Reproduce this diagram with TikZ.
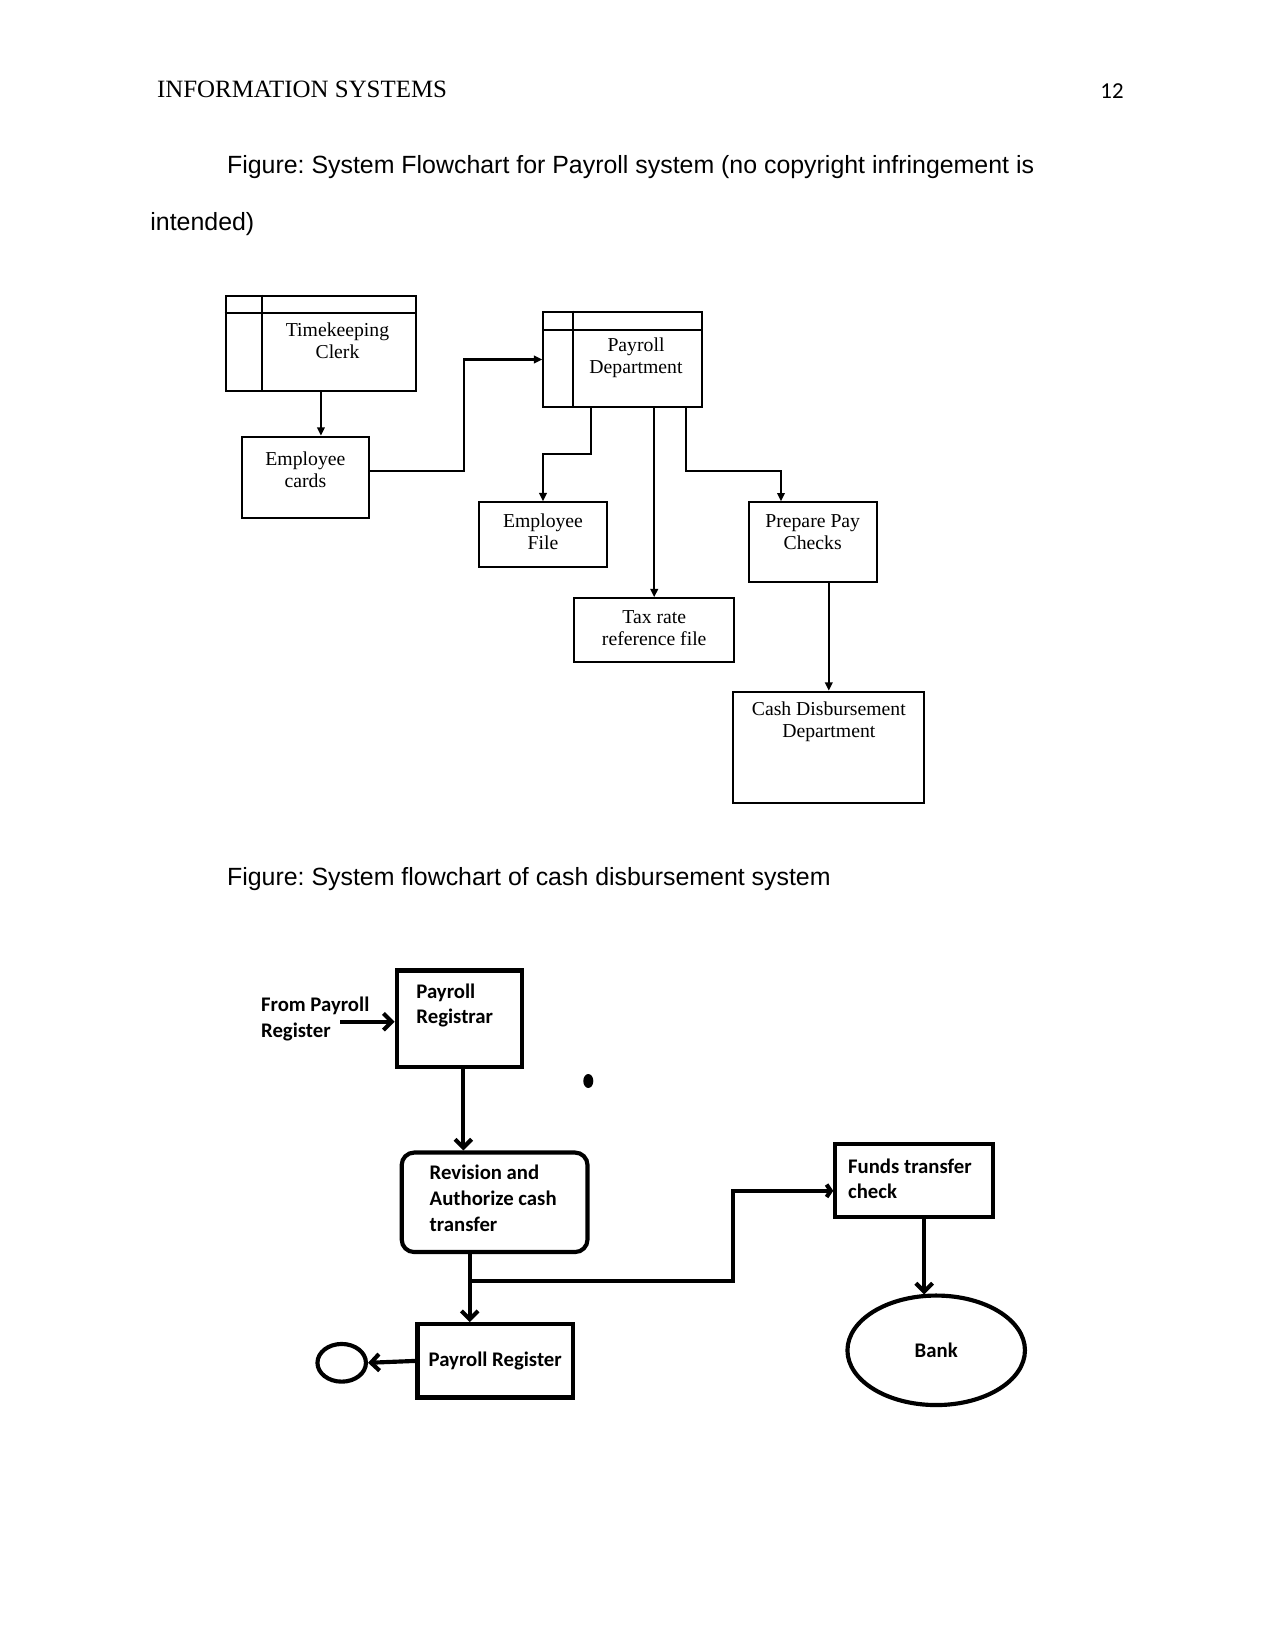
\documentclass[tikz,border=0pt]{standalone}
\usepackage{fontspec}
\setmainfont{Liberation Serif}
\newfontfamily\arialf{Liberation Sans}
\newfontfamily\calf{Carlito}
\usetikzlibrary{arrows.meta,shapes.geometric,calc}
\newcommand{\pxu}{0.4818pt}
\frenchspacing
\begin{document}
\begin{tikzpicture}[x=0.4818pt,y=-0.4818pt,
  tbox/.style={draw, line width=1pt, inner sep=0pt, rectangle},
  ttxt/.style={font=\fontsize{9.5}{10.4}\selectfont, align=center, inner sep=0pt},
  tline/.style={line width=1pt},
  tarr/.style={line width=1pt, -{Triangle[length=4pt,width=3.6pt]}},
  bbox/.style={draw, line width=2pt, inner sep=0pt},
  btxt/.style={font=\calf\bfseries\fontsize{10}{12.3}\selectfont, align=left, inner sep=0pt, anchor=west},
  bline/.style={line width=2pt},
  barr/.style={line width=2pt, -{Straight Barb[length=4pt,width=8pt]}},
  ptxt/.style={inner sep=0pt, anchor=base west}
]
\useasboundingbox (0,0) rectangle (1275,1651);

% ---------- page texts ----------
\node[ptxt, font=\fontsize{12}{14}\selectfont] (hd) at (156.7,97.7) {INFORMATION SYSTEMS};
\node[inner sep=0pt, anchor=base east, font=\calf\fontsize{11}{13}\selectfont] (pg) at (1124,98.3) {12};
\node[ptxt, font=\arialf\fontsize{12}{14}\selectfont] (cap1) at (226.7,173.3) {Figure: System Flowchart for Payroll system (no copyright infringement is};
\node[ptxt, font=\arialf\fontsize{12}{14}\selectfont] (cap1b) at (150,230.7) {intended)};
\node[ptxt, font=\arialf\fontsize{12}{14}\selectfont] (cap2) at (226.7,885) {Figure: System flowchart of cash disbursement system};

% ---------- top flowchart ----------
\node[tbox, minimum width=190.3*\pxu, minimum height=95.3*\pxu] (tk) at (320.9,343.4) {};
\draw[tline] ($(tk.north west)+(0,18.3)$) -- ($(tk.north east)+(0,18.3)$);
\draw[tline] ($(tk.north west)+(37.6,0)$) -- ($(tk.south west)+(37.6,0)$);
\node[ttxt] (tkt) at (337.5,341) {Timekeeping\\Clerk};

\node[tbox, minimum width=127.3*\pxu, minimum height=81.3*\pxu] (ec) at (305.4,477.4) {};
\node[ttxt] (ect) at (305.4,469.5) {Employee\\cards};

\node[tbox, minimum width=159*\pxu, minimum height=95.6*\pxu] (pd) at (622.8,359.5) {};
\draw[tline] ($(pd.north west)+(0,19)$) -- ($(pd.north east)+(0,19)$);
\draw[tline] ($(pd.north west)+(31,0)$) -- ($(pd.south west)+(31,0)$);
\node[ttxt] (pdt) at (636,358) {Payroll\\Department};

\node[tbox, minimum width=127.4*\pxu, minimum height=64.4*\pxu] (ef) at (543,534.5) {};
\node[ttxt] (eft) at (543,532) {Employee\\File};

\node[tbox, minimum width=159.7*\pxu, minimum height=63.4*\pxu] (tr) at (654.2,630) {};
\node[ttxt] (trt) at (654.2,628) {Tax rate\\reference file};

\node[tbox, minimum width=127.4*\pxu, minimum height=79.7*\pxu] (pp) at (813,542.2) {};
\node[ttxt] (ppt) at (812.7,532) {Prepare Pay\\Checks};

\node[tbox, minimum width=191*\pxu, minimum height=111.6*\pxu] (cd) at (828.8,747.5) {};
\node[ttxt] (cdt) at (828.8,722) {Cash Disbursement\\Department};

\coordinate (ya) at (0,470.7);
\coordinate (k1) at (464,359.5);
\coordinate (k2) at (591,454.3);
\coordinate (k3) at (686,470.7);
\coordinate (k4) at (781,470.7);

\draw[tarr] (tk.south) -- (tk.south |- ec.north);
\draw[tarr] (ec.east |- ya) -| (k1) -- (pd.west);
\draw[tarr] (pd.south -| k2) -- (k2) -| (ef.north);
\draw[tarr] (pd.south -| tr.north) -- (tr.north);
\draw[tarr] (pd.south -| k3) -- (k3) -- (k4) -- (k4 |- pp.north);
\draw[tarr] (pp.south -| cd.north) -- (cd.north);

% ---------- bottom flowchart ----------
\node[bbox, minimum width=125.3*\pxu, minimum height=96.7*\pxu] (pr) at (459.4,1018.9) {};
\node[btxt] (prt) at (416,1005.5) {Payroll\\Registrar};
\node[btxt] (fpt) at (260.7,1019) {From Payroll\\Register};
\coordinate (fp) at (340,1021.7);

\node[fill, ellipse, inner sep=0pt, minimum width=10*\pxu, minimum height=14*\pxu] (dot) at (588.3,1081) {};

\node[bbox, rounded corners=6pt, minimum width=185.8*\pxu, minimum height=99.5*\pxu] (rev) at (494.6,1202.3) {};
\node[btxt] (revt) at (429.3,1198.3) {Revision and\\Authorize cash\\transfer};

\node[bbox, minimum width=155.3*\pxu, minimum height=73.3*\pxu, font=\calf\bfseries\fontsize{10}{12.3}\selectfont] (preg) at (495.2,1360.9) {Payroll Register};

\node[bbox, ellipse, minimum width=48.5*\pxu, minimum height=37.7*\pxu] (se) at (341.7,1362.8) {};

\node[bbox, minimum width=157.4*\pxu, minimum height=72.9*\pxu] (ft) at (914,1180.8) {};
\node[btxt] (ftt) at (847.7,1178.8) {Funds transfer\\check};

\node[bbox, ellipse, minimum width=177.5*\pxu, minimum height=109.5*\pxu, font=\calf\bfseries\fontsize{10}{12.3}\selectfont] (bank) at (936.2,1350.3) {Bank};

\coordinate (x1) at (463.3,0);
\coordinate (j1) at (469.7,1280.8);
\coordinate (j2) at (732.6,1280.8);
\coordinate (j3) at (732.6,1190.8);
\coordinate (x2) at (924.2,0);

\draw[barr] (fp) -- (fp -| pr.west);
\draw[barr] (pr.south -| x1) -- (rev.north -| x1);
\draw[barr] (rev.south -| j1) -- (preg.north -| j1);
\draw[bline, -{Straight Barb[length=2pt,width=6pt]}] (j1) -- (j2) -- (j3) -- (j3 -| ft.west);
\draw[barr] (ft.south -| x2) -- ($(bank.north -| x2)+(0,1)$);
\draw[barr] (preg.west) -- (se.east);
\end{tikzpicture}
\end{document}
